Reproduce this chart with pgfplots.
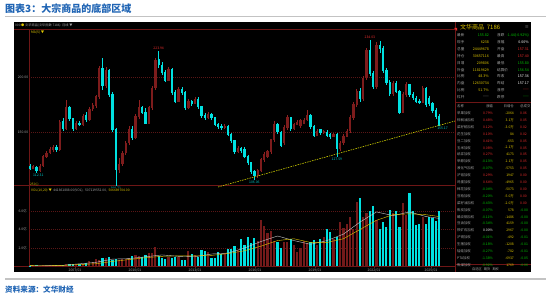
\documentclass[border=0pt]{standalone}
\usepackage{fontspec}
\setmainfont{Noto Sans CJK SC}
\usepackage{pgfplots}
\pgfplotsset{compat=1.18}
\usepackage{pgfplotstable}
\newcommand\fs[1]{\fontsize{#1}{#1}\selectfont}
\definecolor{titleblue}{RGB}{31,100,180}
\definecolor{frame}{RGB}{110,22,22}
\definecolor{gridred}{RGB}{90,22,22}
\definecolor{upred}{RGB}{125,28,28}
\definecolor{upwick}{RGB}{145,32,32}
\definecolor{volred}{RGB}{115,26,26}
\definecolor{dncyan}{RGB}{0,225,225}
\definecolor{txtgray}{RGB}{165,165,165}
\definecolor{tyellow}{RGB}{225,200,0}
\definecolor{tgreen}{RGB}{0,200,0}
\definecolor{tred}{RGB}{235,45,45}
\definecolor{trend}{RGB}{205,205,0}
\definecolor{sepgray}{RGB}{195,195,195}
\definecolor{lowcyan}{RGB}{0,200,200}

\pgfplotstableread{
i o h l c v
1 117 120 116 118.5 0.10
3 115 121 114 119 0.10
4 119 129 118 128 0.12
5 128 133 126 131 0.10
6 131 136 130 134 0.12
7 134 138 132 136 0.15
9 134 161 133 159 0.15
11 153 179 152 172 0.22
14 153 160 152 158 0.25
16 157 166 155 164 0.28
18 161 173 160 171 0.55
19 171 176 169 174 0.50
20 174 184 172 182 0.85
21 182 210 180 208 0.70
23 192 209 190 206 0.90
27 116 126 113 121 0.75
28 121 133 119 131 0.85
29 131 142 129 140 0.80
30 140 155 138 152 0.90
32 145 166 144 164 1.20
33 164 179 162 172 1.15
36 158 174 157 172 1.45
37 172 192 170 190 1.50
38 190 217 188 215 2.10
42 197 209 196 207 1.00
45 178 191 177 189 1.00
48 172 180 171 178 1.70
50 176 182 175 180 1.20
54 163 168 162 166 1.60
59 154 157 153 155.5 1.50
63 132 137 131 135 1.80
69 110 116 108 115 2.80
70 115 126 114 125 5.00
71 125 132 123 130 4.40
72 128 134 126 132 3.60
73 132 144 130 143 3.80
74 143 160 141 157 2.80
77 140 156 138 154 2.70
78 154 165 152 163 2.60
80 153 158 152 157 2.30
81 157 161 156 159 1.60
82 156 162 154 161 2.00
83 158 163 157 161 2.80
84 161 170 160 165 2.50
87 147 153 146 151 2.30
89 149 152 148 150.5 3.20
92 146 149 145 147.5 3.00
94 135 142 133 140 4.80
95 140 148 138 146 4.20
96 146 153 145 151 4.60
97 151 165 149 163 5.40
98 163 177 161 175 4.00
99 175 189 173 187 7.00
101 180 201 178 199 5.30
102 199 226 197 224 5.80
105 191 232 189 229 5.00
110 185 196 183 194 5.80
113 168 186 167 184 6.90
114 184 195 182 193 5.60
119 177 192 176 190 5.40
}\tabup

\pgfplotstableread{
i o h l c v
0 119 121 115 117 0.10
2 118 119 112.31 115 0.12
8 136 138 132 134 0.12
10 160 163 151 153 0.18
12 172 174 160 162 0.25
13 162 163 151 153 0.22
15 158 160 155 156.5 0.30
17 165 168 159 161 0.35
22 208 217 188 192 0.95
24 206 207 182 184 1.00
25 184 186 150 152 0.75
26 152 154 100.71 116 0.80
31 152 155 143 145 1.10
34 172 174 166 168 1.05
35 168 172 157 158 1.20
39 216 223.94 208 211 1.10
40 211 214 202 204 0.90
41 204 206 195 197 0.80
43 207 208 184 186 0.95
44 186 188 176 178 1.05
46 189 191 184 186 0.70
47 186 187 170 172 0.65
49 178 179 174 176 1.30
51 180 182 171 173 1.00
52 173 174 163 165 1.80
53 165 167 161 163 1.70
55 166 167 161 163 0.95
56 163 164 155 157 0.90
57 157 158 153 155 1.60
58 155.5 157 152 154 1.40
60 155.5 156 146 148 1.90
61 148 149 140 142 1.85
62 142 143 130 132 2.20
64 135 136 131 133 3.00
65 134 136 126 128 2.30
66 128 129 120 122 3.20
67 122 123 112 114 2.50
68 114 115 106.06 110 3.10
75 157 158 148 150 2.70
76 150 151 136 138 2.00
79 163 164 151 153 3.00
85 165 166 153 155 2.70
86 155 156 145 147 2.90
88 152 153 147 149 3.00
90 150 152 145 147 4.00
91 148 149 144 146 3.70
93 148 149 127.59 135 3.20
100 187 190 177 180 7.40
103 224 234.03 201 203 6.00
104 203 205 189 191 6.50
106 229 233 222 226 4.00
107 226 228 204 206 4.80
108 206 208 193 195 4.30
109 195 197 183 185 6.10
111 194 196 185 187 6.00
112 187 188 166 168 4.30
115 193 194 182 184 7.90
116 184 186 179 181 6.00
117 181 183 176 178 4.50
118 178 180 175 177 4.60
120 190 191 173 175 4.60
121 181 183 174 176 5.40
122 176 177 167 169 5.20
123 170 172 162 164 4.90
124 164 166 155.17 155.82 6.00
}\tabdn

\pgfplotsset{
  wick/.style={draw=none, mark=none, forget plot, error bars/.cd, y dir=both, y explicit, error mark=none, error bar style={draw=#1, line width=0.5pt}},
  body/.style={draw=none, mark=none, forget plot, error bars/.cd, y dir=both, y explicit, error mark=none, error bar style={draw=#1, line width=2.3pt}},
}
% side table row: y, name, chgcolor, chg, val, lastcolor, last
\newcommand\trow[7]{%
  \node[anchor=west,inner sep=0,text=txtgray] at (457,#1) {#2};
  \node[anchor=east,inner sep=0,text=#3] at (493,#1) {#4};
  \node[anchor=east,inner sep=0,text=tyellow] at (514,#1) {#5};
  \node[anchor=west,inner sep=0,text=#6] at (520,#1) {#7};}
\newcommand\irow[6]{%
  \node[anchor=west,inner sep=0,text=txtgray] at (457,#1) {#2};
  \node[anchor=east,inner sep=0,text=tyellow] at (489,#1) {#3};
  \node[anchor=west,inner sep=0,text=txtgray] at (497,#1) {#4};
  \node[anchor=east,inner sep=0,text=#5] at (529,#1) {#6};}

\begin{document}
\begin{tikzpicture}
\path[use as bounding box, fill=white] (0,0) rectangle (553pt,299pt);
\begin{scope}[x=1pt,y=-1pt,yshift=299pt]
  \fill[black] (14,22) rectangle (531,272);
  \draw[sepgray, line width=1.3pt] (5,16.5) -- (546,16.5);
  \draw[sepgray, line width=2pt] (5,279) -- (546,279);
  \node[anchor=west, inner sep=0, text=titleblue, font=\fs{10}\bfseries] at (5,9) {图表3：大宗商品的底部区域};
  \node[anchor=west, inner sep=0, text=titleblue, font=\fs{7.6}\bfseries] at (5,289.5) {资料来源：文华财经};
  % frame lines
  \draw[frame, line width=0.5pt] (14,29) -- (455,29);
  \draw[frame, line width=0.5pt] (29,29) -- (29,266.5);
  \draw[frame, line width=0.5pt] (14,185.5) -- (455,185.5);
  \draw[frame, line width=0.5pt] (14,266.5) -- (455,266.5);
  \draw[frame, line width=0.5pt] (455,22) -- (455,272);
  \draw[frame, line width=0.5pt] (455,102) -- (531,102);
  \draw[frame, line width=0.5pt] (455,264.5) -- (531,264.5);
  \fill[tred] (454,28) -- (457,28) -- (457,31) -- cycle;
\end{scope}

% price panel
\begin{axis}[
  at={(29pt,111pt)}, anchor=south west, scale only axis,
  width=426pt, height=159pt,
  xmin=-0.3, xmax=128.8, ymin=99.09, ymax=243.64,
  axis line style={draw=none},
  xtick=\empty,
  ytick={150,200}, yticklabels={150.00,200.00},
  ymajorgrids, grid style={gridred, dash pattern=on 1pt off 1pt, line width=0.4pt},
  major tick length=0pt,
  yticklabel style={font=\fs{3.4}, text=txtgray, inner sep=0.6pt},
]
\addplot[wick=upwick] table[x=i, y expr={(\thisrow{h}+\thisrow{l})/2}, y error expr={(\thisrow{h}-\thisrow{l})/2}] {\tabup};
\addplot[wick=dncyan] table[x=i, y expr={(\thisrow{h}+\thisrow{l})/2}, y error expr={(\thisrow{h}-\thisrow{l})/2}] {\tabdn};
\addplot[body=upred] table[x=i, y expr={(\thisrow{o}+\thisrow{c})/2}, y error expr={abs(\thisrow{c}-\thisrow{o})/2+0.3}] {\tabup};
\addplot[body=dncyan] table[x=i, y expr={(\thisrow{o}+\thisrow{c})/2}, y error expr={abs(\thisrow{c}-\thisrow{o})/2+0.3}] {\tabdn};
\addplot[trend, line width=0.6pt, dash pattern=on 1.5pt off 1pt] coordinates {(57.0,100) (128.8,160)};
\node[anchor=south, inner sep=0.8pt, text=tred, font=\fs{3.4}] at (axis cs:39,223.94) {223.94};
\node[anchor=south, inner sep=0.8pt, text=tred, font=\fs{3.4}] at (axis cs:103,234.03) {234.03};
\node[anchor=north, inner sep=0.8pt, text=lowcyan, font=\fs{3.4}] at (axis cs:2.5,112.31) {112.31};
\node[anchor=north, inner sep=0.3pt, text=lowcyan, font=\fs{3.4}] at (axis cs:26,100.71) {100.71};
\node[anchor=north, inner sep=0.8pt, text=lowcyan, font=\fs{3.4}] at (axis cs:68,106.06) {106.06};
\node[anchor=north, inner sep=0.8pt, text=lowcyan, font=\fs{3.4}] at (axis cs:93,127.59) {127.59};
\node[anchor=north, inner sep=0.8pt, text=lowcyan, font=\fs{3.4}] at (axis cs:125,155.17) {155.17};
\end{axis}

% volume panel
\begin{axis}[
  at={(29pt,32.5pt)}, anchor=south west, scale only axis,
  width=426pt, height=76.5pt,
  xmin=-0.3, xmax=128.8, ymin=0, ymax=8.27,
  axis line style={draw=none},
  xtick={13.64,31.82,50,68.18,86.36,104.24,121.52},
  xticklabels={2007/01,2010/01,2013/01,2016/01,2019/01,2022/01,2025/01},
  ytick={2,4,6}, yticklabels={2.0亿,4.0亿,6.0亿},
  ymajorgrids, grid style={gridred, dash pattern=on 1pt off 1pt, line width=0.4pt},
  tick pos=left, tick align=outside,
  xtick style={draw=frame, line width=0.4pt}, ytick style={draw=none},
  major tick length=1.5pt,
  yticklabel style={font=\fs{3.4}, text=txtgray, inner sep=0.6pt},
  xticklabel style={font=\fs{3.4}, text=txtgray, inner sep=0.4pt},
]
\addplot[ycomb, draw=volred, line width=2.2pt, mark=none, forget plot] table[x=i, y=v] {\tabup};
\addplot[ycomb, draw=dncyan, line width=2.2pt, mark=none, forget plot] table[x=i, y=v] {\tabdn};
\addplot[color={rgb,255:red,200;green,200;blue,200}, line width=0.4pt, mark=none] coordinates {
(0,0.10) (10,0.13) (20,0.45) (25,0.80) (30,0.85) (35,1.05) (40,1.25) (45,1.10) (50,1.05) (55,1.35) (60,1.45) (65,2.00) (70,2.70) (75,3.30) (80,2.80) (85,2.40) (90,2.80) (95,3.50) (100,4.80) (105,5.90) (110,5.50) (115,5.90) (120,5.40) (124,5.20)};
\addplot[color=tyellow, line width=0.4pt, mark=none] coordinates {
(0,0.10) (10,0.12) (20,0.30) (25,0.55) (30,0.75) (35,0.95) (40,1.10) (45,1.15) (50,1.15) (55,1.20) (60,1.40) (65,1.70) (70,2.20) (75,2.80) (80,3.00) (85,2.60) (90,2.60) (95,3.00) (100,4.00) (105,5.00) (110,5.60) (115,5.70) (120,5.60) (124,5.40)};
\end{axis}

\begin{scope}[x=1pt,y=-1pt,yshift=299pt]
  % header strip
  \node[anchor=west, inner sep=0, text=txtgray, font=\fs{3.2}] at (15,25.5) {000 \textcolor{tyellow}{●} 文华商品(文华指数 7186)\ \ 月线 ▼};
  \node[anchor=west, inner sep=0, text=tyellow, font=\fs{3.4}] at (31,32) {MA(5) ▼};
  \node[anchor=west, inner sep=0, text=tyellow, font=\fs{3.2}] at (30,185) {250(-)};
  \node[anchor=west, inner sep=0, text=txtgray, font=\fs{3.3}] at (31,190) {\textcolor{tyellow}{VOL(10,20) ▼}\ \ 441861888.00(VOL),\ \ 507119552.00,\ \ \textcolor{tyellow}{506689704.00}};
  % side panel
  \node[anchor=west, inner sep=0, text=tyellow, font=\fs{6}] at (460,27) {文华商品\ \ 7186};
  \node[anchor=east, inner sep=0, text=txtgray, font=\fs{4}] at (529,27) {≡};
  \begin{scope}[font=\fs{3.6}]
  \irow{35.5}{最新}{\textcolor{tgreen}{155.82}}{涨跌}{tgreen}{-1.44(-0.92\%)}
  \irow{42.35}{现手}{6238}{涨幅}{white}{0.00\%}
  \irow{49.2}{总量}{24449678}{开盘}{tred}{157.31}
  \irow{56.05}{持仓}{30657116}{最高}{tred}{157.40}
  \irow{62.9}{日增}{209806}{最低}{tgreen}{155.80}
  \irow{69.75}{外盘}{11819629}{结算价}{tgreen}{156.54}
  \irow{76.6}{比例}{48.3\%}{昨收}{white}{157.36}
  \irow{83.45}{内盘}{12630734}{昨结}{white}{157.17}
  \irow{90.3}{比例}{51.7\%}{涨停}{tred}{——}
  \irow{97.15}{杠杆}{\textcolor{txtgray}{——}}{跌停}{tgreen}{——}
  \end{scope}
  \begin{scope}[font=\fs{3.4}]
  \node[anchor=west,inner sep=0,text=txtgray] at (457,106.3) {名称};
  \node[anchor=east,inner sep=0,text=txtgray] at (493,106.3) {涨幅};
  \node[anchor=east,inner sep=0,text=txtgray] at (514,106.3) {日增仓};
  \node[anchor=west,inner sep=0,text=txtgray] at (520,106.3) {总成交};
  \trow{113.3}{苹果加权}{tred}{0.79\%}{-2064}{tred}{0.06}
  \trow{120.2}{棕榈油加权}{tred}{0.48\%}{3.1万}{tred}{0.05}
  \trow{127.1}{菜籽粕加权}{tred}{0.12\%}{-3.0万}{tred}{0.02}
  \trow{134.0}{花生加权}{tred}{0.10\%}{84}{tred}{0.02}
  \trow{140.9}{豆二加权}{tred}{0.41\%}{-653}{tred}{0.05}
  \trow{147.8}{玉米加权}{tred}{0.08\%}{-2.1万}{tred}{0.05}
  \trow{154.7}{纸浆加权}{tred}{0.27\%}{4173}{tred}{0.05}
  \trow{161.6}{甲醇加权}{tgreen}{-0.13\%}{2.1万}{tred}{0.05}
  \trow{168.5}{液化气加权}{tgreen}{-0.07\%}{-5753}{tred}{0.05}
  \trow{175.4}{沪铝加权}{tred}{0.29\%}{1947}{tred}{0.00}
  \trow{182.3}{鸡蛋加权}{tred}{0.64\%}{-4965}{tred}{0.00}
  \trow{189.2}{棉花加权}{tgreen}{-0.04\%}{-5073}{tred}{0.00}
  \trow{196.1}{豆粕加权}{tgreen}{-0.20\%}{-5.0万}{tred}{0.00}
  \trow{203.0}{菜籽油加权}{tgreen}{-0.43\%}{-2.0万}{tred}{0.00}
  \trow{209.9}{焦炭加权}{tgreen}{-0.07\%}{578}{tgreen}{-0.00}
  \trow{216.8}{螺纹钢加权}{tgreen}{-0.11\%}{-1486}{tgreen}{-0.00}
  \trow{223.7}{豆油加权}{tgreen}{-0.34\%}{4159}{tgreen}{-0.00}
  \trow{230.6}{铁矿石加权}{white}{0.00\%}{2967}{tgreen}{-0.00}
  \trow{237.5}{沪铜加权}{tgreen}{-0.01\%}{-492}{tgreen}{-0.01}
  \trow{244.4}{生猪加权}{tgreen}{-0.18\%}{-1208}{tgreen}{-0.01}
  \trow{251.3}{锰硅加权}{tgreen}{-0.27\%}{-782}{tgreen}{-0.01}
  \trow{258.2}{PTA加权}{tgreen}{-1.38\%}{-6937}{tgreen}{-0.05}
  \trow{265.1}{焦煤加权}{tgreen}{-0.92\%}{1769}{tgreen}{-0.06}
  \end{scope}
  \node[anchor=west, inner sep=0, text=txtgray, font=\fs{3.2}] at (472,268.8) {自选区\ \ \ 期货\ \ \ 期权};
  \fill[white] (531.2,22) rectangle (553,272);
\end{scope}
\end{tikzpicture}
\end{document}
